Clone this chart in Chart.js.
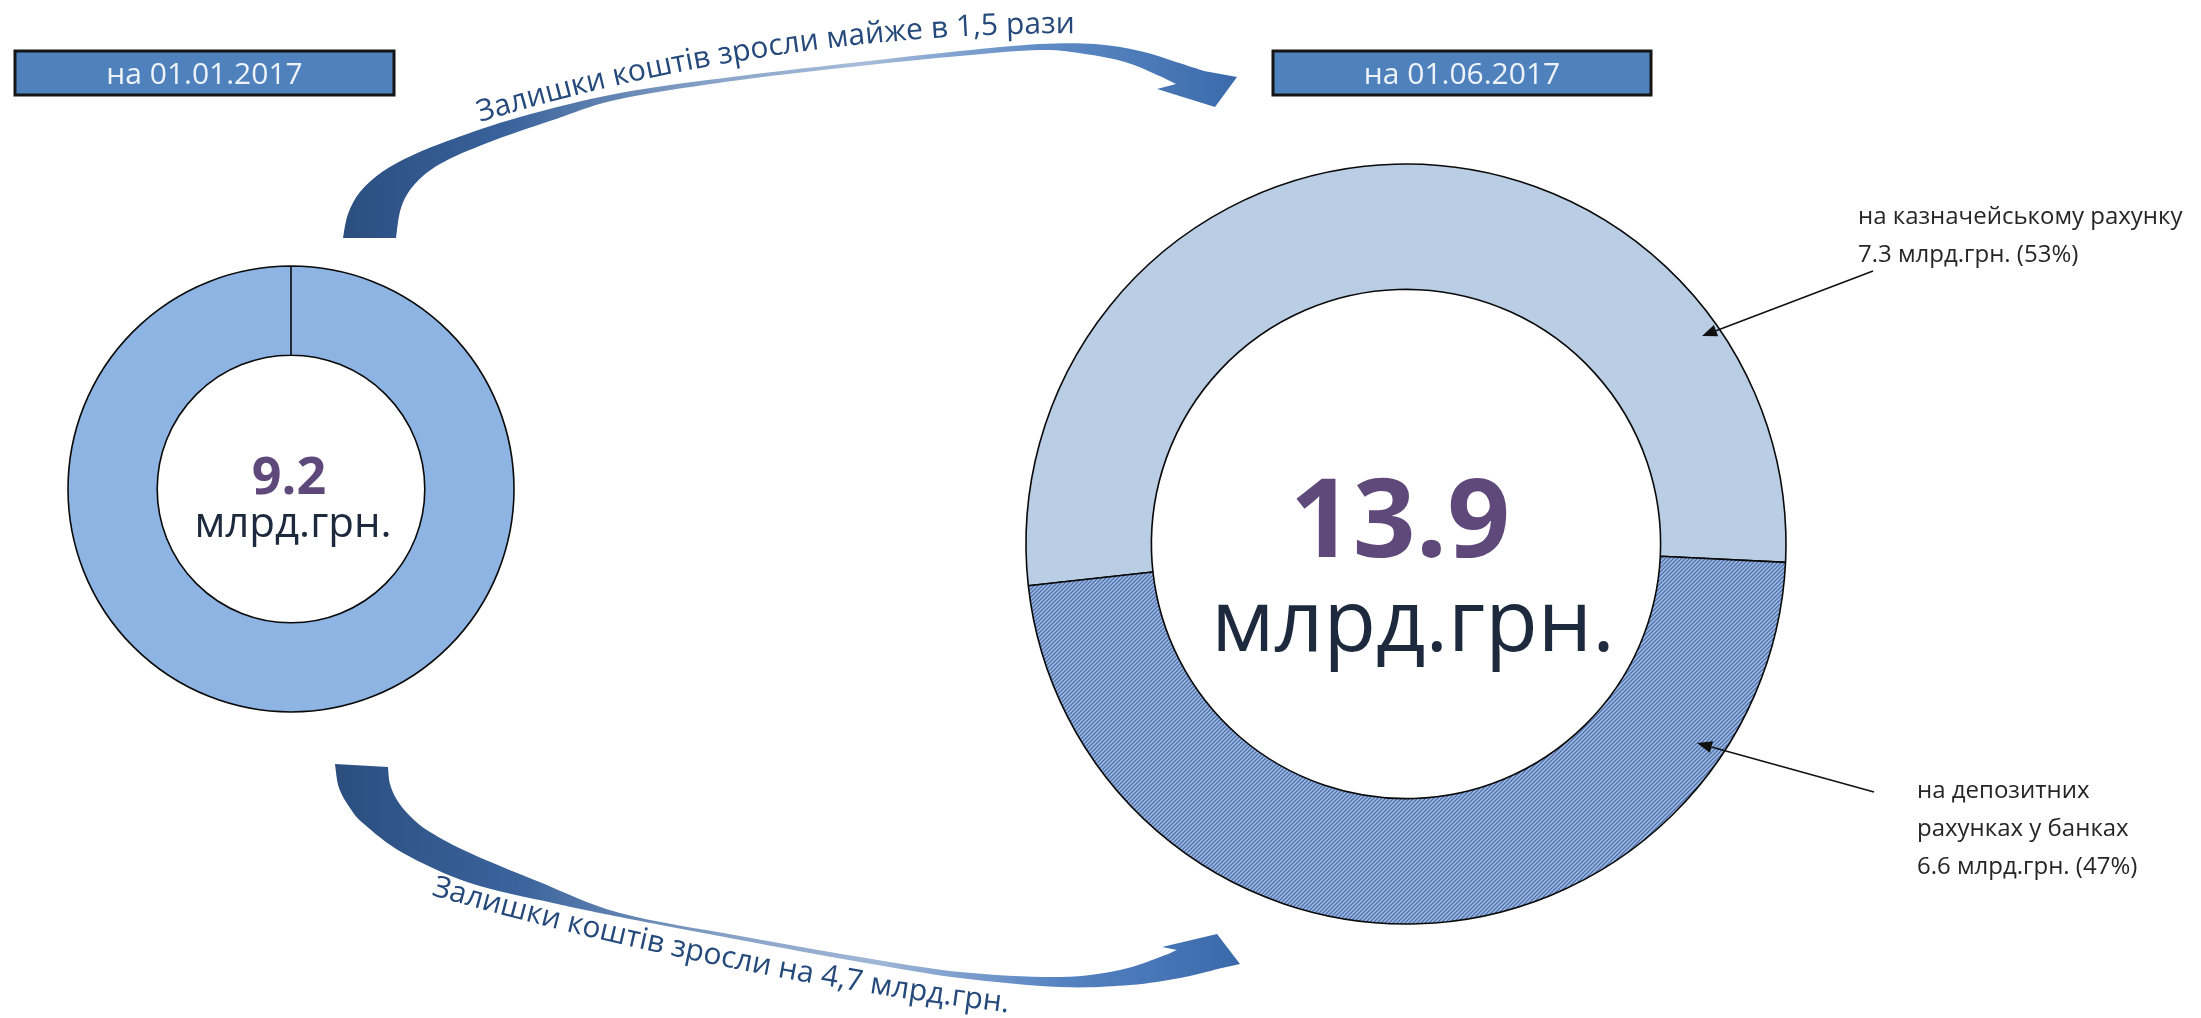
<!DOCTYPE html>
<html>
<head>
<meta charset="utf-8">
<script src="https://cdn.jsdelivr.net/npm/chart.js@4.4.1/dist/chart.umd.min.js"></script>
<style>
  html, body { margin: 0; padding: 0; background: #ffffff; }
  #wrap { position: relative; width: 2201px; height: 1018px; overflow: hidden; }
  canvas { position: absolute; left: 0; top: 0; }
</style>
</head>
<body>
<div id="wrap">
  <canvas id="leftChart" width="2201" height="1018"></canvas>
  <canvas id="rightChart" width="2201" height="1018"></canvas>
</div>
<script>
// ---------------- DATA ----------------
const dateLabels = ['на 01.01.2017', 'на 01.06.2017'];
const leftCategories = ['Залишки коштів'];
const leftValues = [9.2];
const rightCategories = ['на казначейському рахунку', 'на депозитних рахунках у банках'];
const rightValues = [7.3, 6.6];
const rightShares = [53, 47];
const unitLabel = 'млрд.грн.';
const leftTotalLabel = '9.2';
const rightTotalLabel = '13.9';
const arrowCaptions = ['Залишки коштів зросли майже в 1,5 рази', 'Залишки коштів зросли на 4,7 млрд.грн.'];
const rightLabelLines = [
  ['на казначейському рахунку', '7.3 млрд.грн. (53%)'],
  ['на депозитних', 'рахунках у банках', '6.6 млрд.грн. (47%)']
];

// ---------------- HELPERS ----------------
const FONT = '"Open Sans", "Noto Sans", sans-serif';

function makeHatch() {
  const p = 4;
  const c = document.createElement('canvas');
  c.width = p; c.height = p;
  const g = c.getContext('2d');
  g.fillStyle = '#a3bde5';
  g.fillRect(0, 0, p, p);
  g.strokeStyle = '#4d72ad';
  g.lineWidth = 1.35;
  g.beginPath();
  g.moveTo(0, p); g.lineTo(p, 0);
  g.moveTo(-1, 1); g.lineTo(1, -1);
  g.moveTo(p - 1, p + 1); g.lineTo(p + 1, p - 1);
  g.stroke();
  return c;
}

function smoothPath(ctx, pts, first) {
  if (first) ctx.moveTo(pts[0][0], pts[0][1]); else ctx.lineTo(pts[0][0], pts[0][1]);
  for (let i = 0; i < pts.length - 1; i++) {
    const p0 = pts[i - 1] || pts[i], p1 = pts[i], p2 = pts[i + 1], p3 = pts[i + 2] || pts[i + 1];
    const c1x = p1[0] + (p2[0] - p0[0]) / 6, c1y = p1[1] + (p2[1] - p0[1]) / 6;
    const c2x = p2[0] - (p3[0] - p1[0]) / 6, c2y = p2[1] - (p3[1] - p1[1]) / 6;
    ctx.bezierCurveTo(c1x, c1y, c2x, c2y, p2[0], p2[1]);
  }
}

function drawBlockArrow(ctx, outer, head, inner, x0, x1, stops) {
  ctx.save();
  const gr = ctx.createLinearGradient(x0, 0, x1, 0);
  stops.forEach(s => gr.addColorStop(s[0], s[1]));
  ctx.fillStyle = gr;
  ctx.beginPath();
  smoothPath(ctx, outer, true);
  head.forEach(p => ctx.lineTo(p[0], p[1]));
  smoothPath(ctx, inner, false);
  ctx.closePath();
  ctx.fill();
  ctx.restore();
}

function textOnArc(ctx, text, sx, sy, th0Deg, th1Deg, font, color) {
  ctx.save();
  ctx.font = font;
  ctx.fillStyle = color;
  ctx.textAlign = 'center';
  ctx.textBaseline = 'alphabetic';
  const total = ctx.measureText(text).width;
  const th0 = th0Deg * Math.PI / 180, th1 = th1Deg * Math.PI / 180;
  const k = (th1 - th0) / total;
  let s = 0;
  for (const ch of text) {
    const w = ctx.measureText(ch).width;
    const sm = s + w / 2;
    const th = th0 + k * sm;
    let x, y;
    if (Math.abs(k) < 1e-9) { x = sx + sm * Math.cos(th0); y = sy + sm * Math.sin(th0); }
    else { x = sx + (Math.sin(th) - Math.sin(th0)) / k; y = sy - (Math.cos(th) - Math.cos(th0)) / k; }
    ctx.save();
    ctx.translate(x, y);
    ctx.rotate(th);
    ctx.fillText(ch, 0, 0);
    ctx.restore();
    s += w;
  }
  ctx.restore();
}

function headerBox(ctx, x, y, w, h, text) {
  ctx.save();
  ctx.fillStyle = '#4f81bd';
  ctx.fillRect(x, y, w, h);
  ctx.lineWidth = 3;
  ctx.strokeStyle = '#151515';
  ctx.strokeRect(x, y, w, h);
  ctx.fillStyle = '#eef3fa';
  ctx.font = '30px ' + FONT;
  ctx.textAlign = 'center';
  ctx.textBaseline = 'alphabetic';
  ctx.fillText(text, x + w / 2, y + h / 2 + 11);
  ctx.restore();
}

function connector(ctx, x1, y1, x2, y2) {
  ctx.save();
  ctx.strokeStyle = '#111';
  ctx.fillStyle = '#111';
  ctx.lineWidth = 1.6;
  const ang = Math.atan2(y2 - y1, x2 - x1);
  const L = 15, W = 6;
  const bx = x2 - L * Math.cos(ang), by = y2 - L * Math.sin(ang);
  ctx.beginPath();
  ctx.moveTo(x1, y1);
  ctx.lineTo(bx, by);
  ctx.stroke();
  ctx.beginPath();
  ctx.moveTo(x2, y2);
  ctx.lineTo(bx - W * Math.sin(ang), by + W * Math.cos(ang));
  ctx.lineTo(bx + W * Math.sin(ang), by - W * Math.cos(ang));
  ctx.closePath();
  ctx.fill();
  ctx.restore();
}

function textLines(ctx, lines, x, y0, lh, font, color) {
  ctx.save();
  ctx.font = font;
  ctx.fillStyle = color;
  ctx.textAlign = 'left';
  ctx.textBaseline = 'alphabetic';
  lines.forEach((l, i) => ctx.fillText(l, x, y0 + i * lh));
  ctx.restore();
}

// ---------------- PLUGINS ----------------
const leftCenterPlugin = {
  id: 'leftCenter',
  afterDraw(chart) {
    const ctx = chart.ctx;
    const arc = chart.getDatasetMeta(0).data[0];
    const cx = arc.x, cy = arc.y;
    ctx.save();
    ctx.textAlign = 'center';
    ctx.textBaseline = 'alphabetic';
    ctx.fillStyle = '#5f497a';
    ctx.font = 'bold 52px ' + FONT;
    ctx.fillText(leftTotalLabel, cx - 2, cy + 5);
    ctx.fillStyle = '#1d2a3e';
    ctx.font = '42px ' + FONT;
    ctx.fillText(unitLabel, cx + 2, cy + 48);
    ctx.restore();
  }
};

const decorPlugin = {
  id: 'decor',
  afterDraw(chart) {
    const ctx = chart.ctx;
    const arc = chart.getDatasetMeta(0).data[0];
    const cx = arc.x, cy = arc.y;

    // headers
    headerBox(ctx, 15, 51, 379, 44, dateLabels[0]);
    headerBox(ctx, 1273, 51, 378, 44, dateLabels[1]);

    // top curved arrow
    const topOuter = [[343,238],[348,214],[360,192],[382,172],[413,155],[453,139],[520,117],[620,93],[740,76],[860,62],[960,51],[1040,44],[1095,44],[1140,51],[1176,62],[1204,71]];
    const topHead = [[1237,77],[1215,107],[1157,89]];
    const topInner = [[1176,84],[1155,74],[1125,62],[1085,54],[1040,50],[960,56],[860,66],[740,80],[620,99],[553,120],[487,143],[440,164],[414,185],[401,208],[396,238]];
    drawBlockArrow(ctx, topOuter, topHead, topInner, 343, 1237,
      [[0,'#2b4e7f'],[0.18,'#39629b'],[0.42,'#8aa5c9'],[0.58,'#a7bcd9'],[0.78,'#5f8cc6'],[1,'#3b6aab']]);

    // bottom curved arrow
    const botOuter = [[335,764],[339,788],[350,808],[364,824],[403,853],[470,883],[553,903],[620,917],[740,940],[860,962],[960,978],[1060,987],[1130,985],[1180,978],[1222,968]];
    const botHead = [[1240,964],[1217,934],[1162,947]];
    const botInner = [[1177,950],[1160,957],[1120,970],[1060,977],[960,972],[860,957],[740,936],[620,913],[537,881],[470,853],[430,832],[410,816],[397,800],[390,784],[388,767]];
    drawBlockArrow(ctx, botOuter, botHead, botInner, 335, 1240,
      [[0,'#2b4e7f'],[0.2,'#3a639c'],[0.45,'#8aa5c9'],[0.6,'#9fb6d6'],[0.8,'#5583c2'],[1,'#3b6aab']]);

    // curved captions
    textOnArc(ctx, arrowCaptions[0], 480, 122, -17, 0, '30px ' + FONT, '#24497a');
    textOnArc(ctx, arrowCaptions[1], 431, 895, 16, 7, '30px ' + FONT, '#24497a');

    // right centre
    ctx.save();
    ctx.textAlign = 'center';
    ctx.textBaseline = 'alphabetic';
    ctx.fillStyle = '#5f497a';
    ctx.font = 'bold 110px ' + FONT;
    ctx.fillText(rightTotalLabel, cx - 6, cy + 13);
    ctx.fillStyle = '#1d2a3e';
    ctx.font = '86px ' + FONT;
    ctx.fillText(unitLabel, cx + 7, cy + 107);
    ctx.restore();

    // labels + connectors
    textLines(ctx, rightLabelLines[0], 1858, 224, 38, '24px ' + FONT, '#262626');
    textLines(ctx, rightLabelLines[1], 1917, 798, 38, '24px ' + FONT, '#262626');
    connector(ctx, 1873, 271, 1702, 336);
    connector(ctx, 1874, 792, 1697, 743);
  }
};

// ---------------- CHARTS ----------------
const common = {
  responsive: false,
  animation: false,
  events: [],
  plugins: { legend: { display: false }, tooltip: { enabled: false } }
};

new Chart(document.getElementById('leftChart'), {
  type: 'doughnut',
  data: {
    labels: leftCategories,
    datasets: [{
      data: leftValues,
      backgroundColor: ['#8db4e2'],
      borderColor: '#0a0a0a',
      borderWidth: 1.6,
      radius: 223,
      cutout: '60%',
      rotation: 0,
      hoverOffset: 0
    }]
  },
  options: Object.assign({}, common, {
    layout: { padding: { left: 66, top: 264, right: 1685, bottom: 304 } }
  }),
  plugins: [leftCenterPlugin]
});

const hatch = document.getElementById('rightChart').getContext('2d').createPattern(makeHatch(), 'repeat');

new Chart(document.getElementById('rightChart'), {
  type: 'doughnut',
  data: {
    labels: rightCategories,
    datasets: [{
      data: rightValues,
      backgroundColor: ['#b9cde5', hatch],
      borderColor: '#0a0a0a',
      borderWidth: 1.6,
      radius: 380,
      cutout: '67%',
      rotation: 263.7,
      hoverOffset: 0
    }]
  },
  options: Object.assign({}, common, {
    layout: { padding: { left: 1022, top: 160, right: 411, bottom: 90 } }
  }),
  plugins: [decorPlugin]
});
</script>
</body>
</html>
